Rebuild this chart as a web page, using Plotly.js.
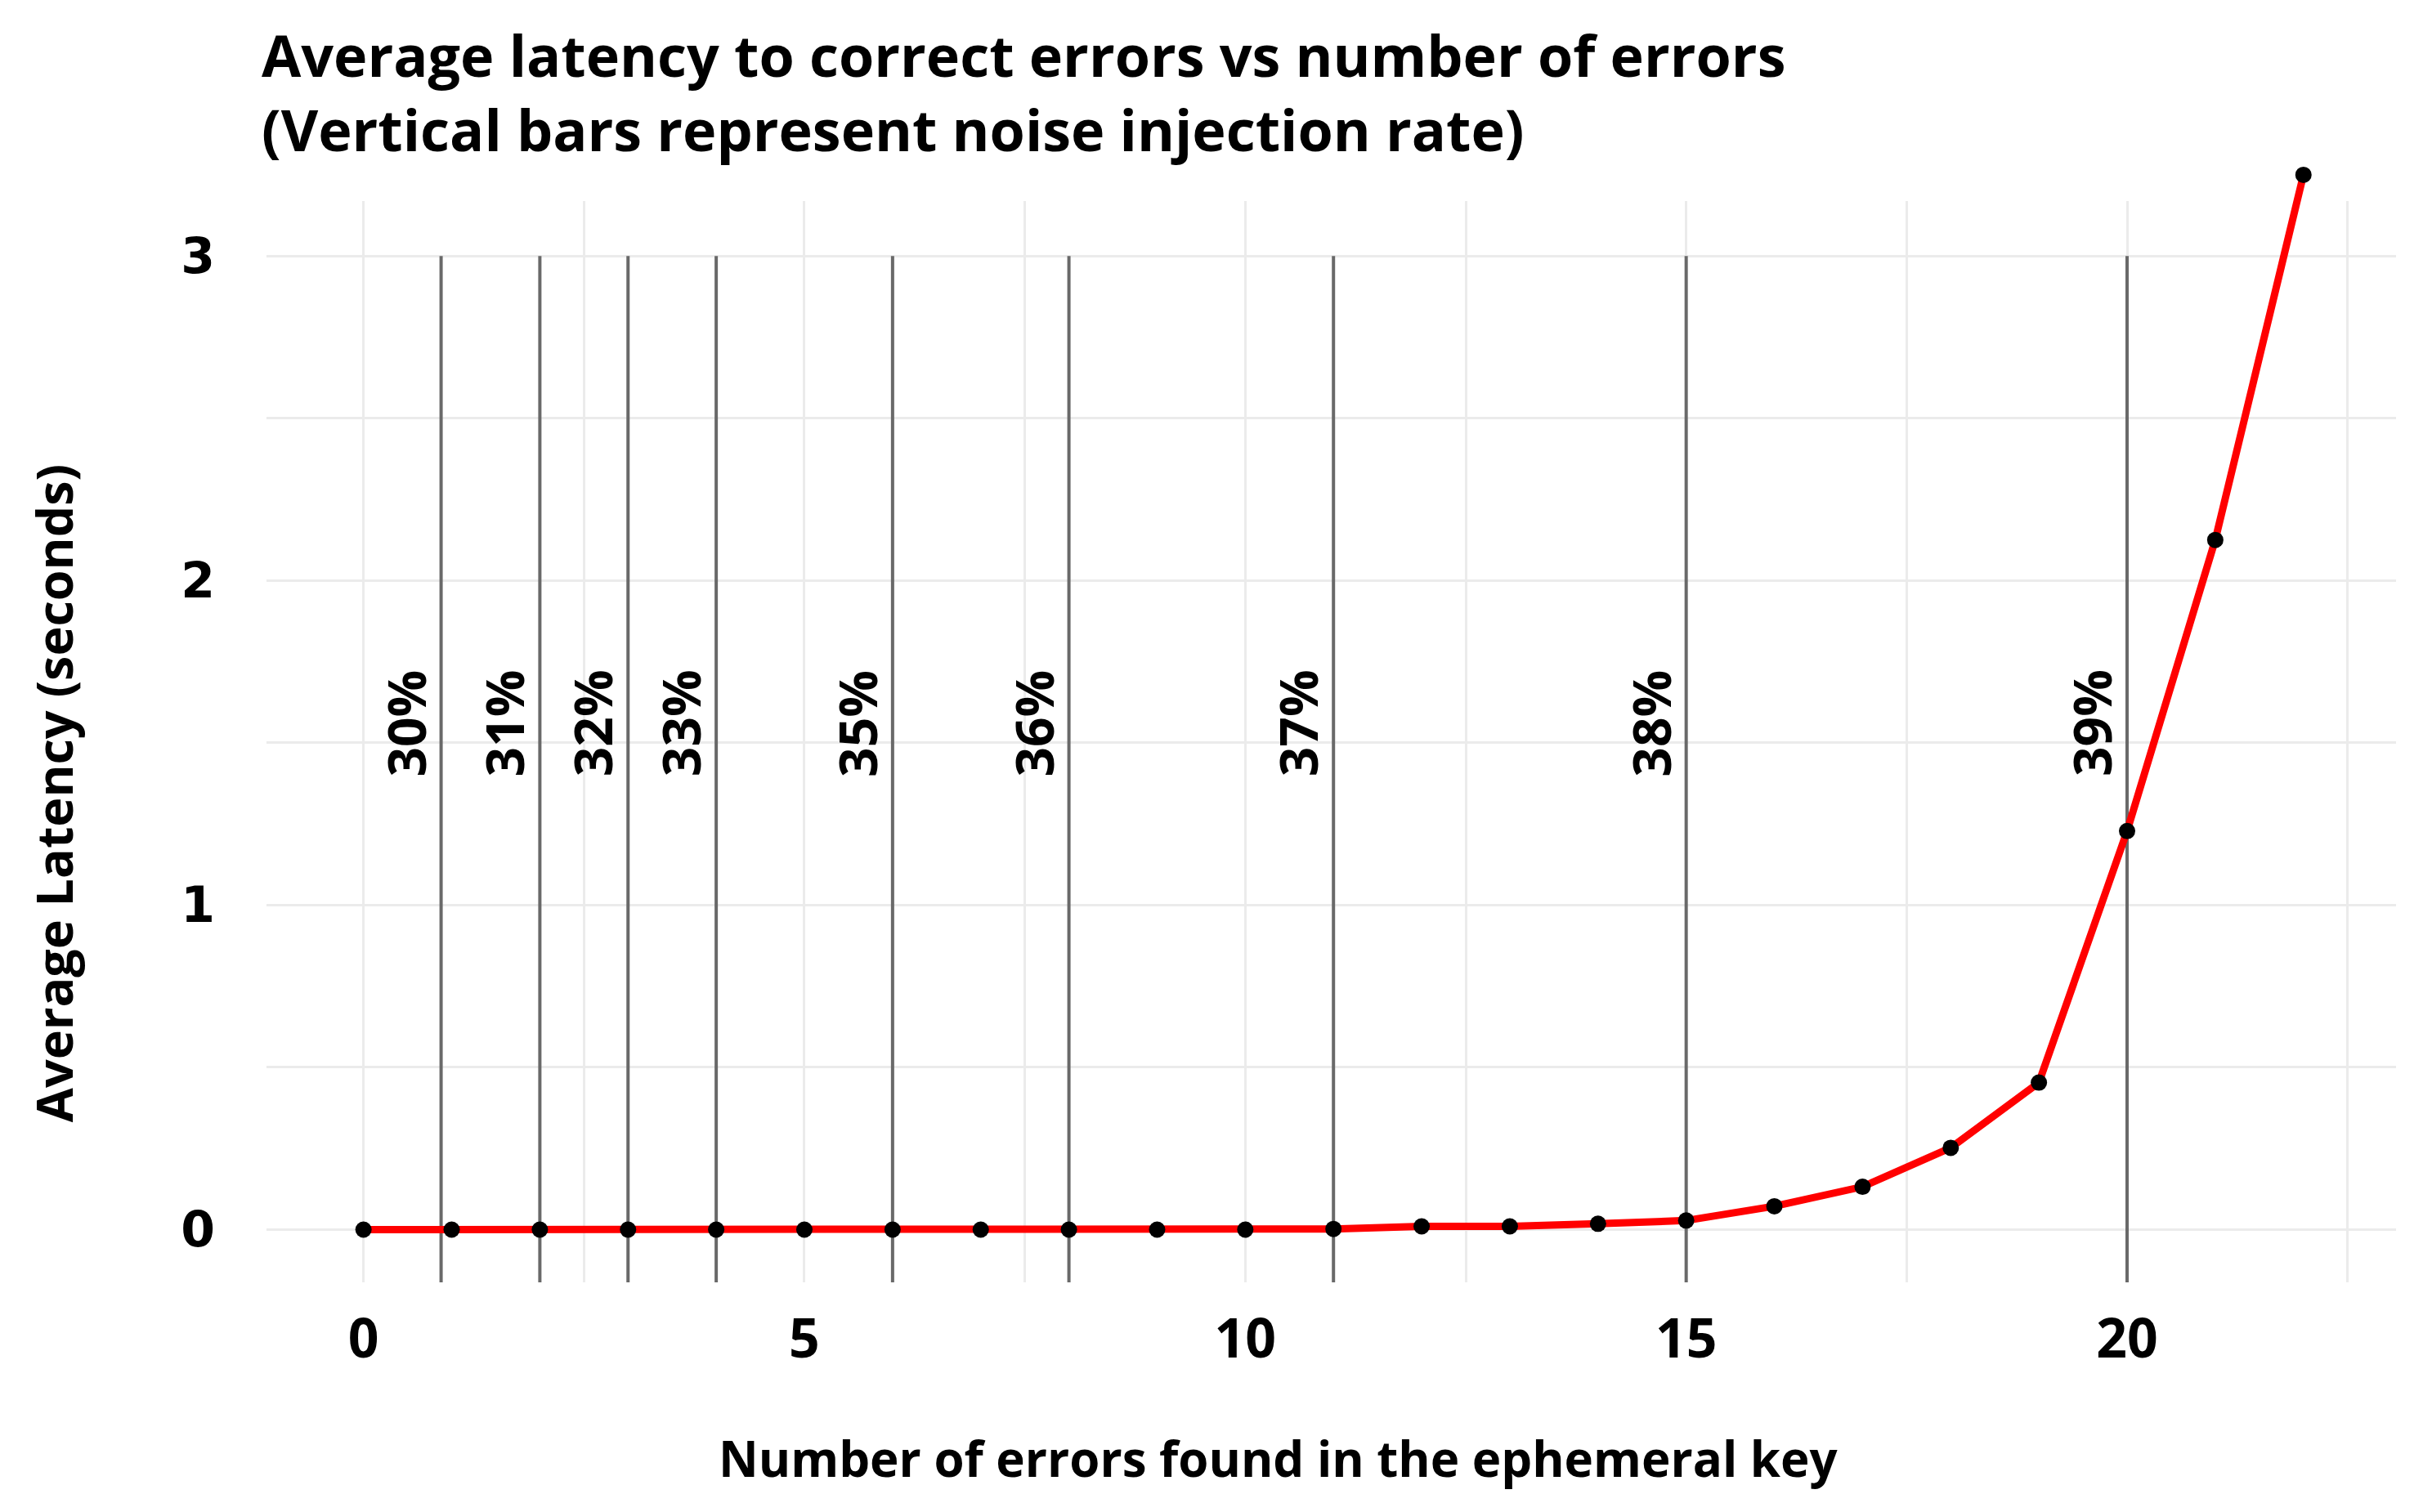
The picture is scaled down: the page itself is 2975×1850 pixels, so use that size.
<!DOCTYPE html>
<html>
<head>
<meta charset="utf-8">
<script src="https://cdn.plot.ly/plotly-3.0.1.min.js"></script>
<style>
  html, body { margin: 0; padding: 0; background: #fff; }
  #chart { width: 2975px; height: 1850px; }
</style>
</head>
<body>
<div id="chart"></div>
<script>
// number of errors found vs average latency (seconds)
var errors = [0, 1, 2, 3, 4, 5, 6, 7, 8, 9, 10, 11, 12, 13, 14, 15, 16, 17, 18, 19, 20, 21, 22];
var latency = [0, 0, 0, 0, 0, 0, 0, 0, 0, 0, 0, 0.002, 0.01, 0.01, 0.018, 0.028, 0.072, 0.132, 0.252, 0.453, 1.228, 2.125, 3.25];

// noise injection rate markers (vertical bars)
var rateX = [0.88, 2, 3, 4, 6, 8, 11, 15, 20];
var rateLabels = ["30%", "31%", "32%", "33%", "35%", "36%", "37%", "38%", "39%"];
var rateLabelY = 1.56;

var xRange = [-1.1, 23.05];
var yRange = [-0.1625, 3.27];
var gridTop = 3.17; // grid panel stops here, the last point sticks out above it
var gridFrac = (gridTop - yRange[0]) / (yRange[1] - yRange[0]);

// the grid lives on x/y, the data on x2/y2 (same scale, taller) so the last point can rise above the grid
var gridHolder = {
    x: [], y: [],
    type: "scatter",
    xaxis: "x", yaxis: "y",
    hoverinfo: "skip"
};

var trace = {
    x: errors,
    y: latency,
    type: "scatter",
    mode: "lines+markers",
    xaxis: "x2", yaxis: "y2",
    line: { color: "#ff0000", width: 9 },
    marker: { color: "#000000", size: 20 },
    cliponaxis: false,
    hoverinfo: "skip"
};

var shapes = [];
var annotations = [];

for (var i = 0; i < rateX.length; i++) {
    shapes.push({
        type: "line",
        xref: "x2", yref: "y2",
        x0: rateX[i], x1: rateX[i],
        y0: yRange[0], y1: 3,
        line: { color: "#696969", width: 4 },
        layer: "below"
    });
    annotations.push({
        xref: "x2", yref: "y2",
        x: rateX[i], y: rateLabelY,
        text: rateLabels[i],
        textangle: -90,
        showarrow: false,
        xanchor: "center",
        yanchor: "middle",
        xshift: -44,
        font: { family: "Open Sans", size: 64, weight: 700, color: "#000" }
    });
}

// axis titles placed as in the picture
annotations.push({
    xref: "paper", yref: "paper",
    x: 0.475, y: -0.158,
    text: "Number of errors found in the ephemeral key",
    showarrow: false,
    xanchor: "center", yanchor: "middle",
    font: { family: "Open Sans", size: 60, weight: 700, color: "#000" }
});
annotations.push({
    xref: "paper", yref: "paper",
    x: -0.1, y: 0.439,
    text: "Average Latency (seconds)",
    textangle: -90,
    showarrow: false,
    xanchor: "center", yanchor: "middle",
    font: { family: "Open Sans", size: 61, weight: 700, color: "#000" }
});

var layout = {
    width: 2975,
    height: 1850,
    paper_bgcolor: "#ffffff",
    plot_bgcolor: "rgba(0,0,0,0)",
    showlegend: false,
    margin: { l: 326, r: 44, t: 206, b: 281, pad: 0 },
    title: {
        text: "Average latency to correct errors vs number of errors<br>(Vertical bars represent noise injection rate)",
        x: 320 / 2975,
        xref: "container",
        xanchor: "left",
        y: 1 - 94 / 1850,
        yref: "container",
        yanchor: "top",
        font: { family: "Open Sans", size: 70, weight: 700, color: "#000" }
    },
    xaxis: {
        range: xRange,
        anchor: "y",
        tickmode: "linear",
        tick0: 0,
        dtick: 5,
        showgrid: true,
        gridcolor: "#ebebeb",
        gridwidth: 3,
        minor: { dtick: 2.5, tick0: 0, showgrid: true, gridcolor: "#ebebeb", gridwidth: 3 },
        zeroline: false,
        showline: false,
        ticks: "outside",
        ticklen: 12,
        tickcolor: "rgba(0,0,0,0)",
        tickfont: { family: "Open Sans", size: 66, weight: 700, color: "#000" },
        fixedrange: true
    },
    yaxis: {
        range: [yRange[0], gridTop],
        domain: [0, gridFrac],
        anchor: "x",
        tickmode: "linear",
        tick0: 0,
        dtick: 1,
        showgrid: true,
        gridcolor: "#ebebeb",
        gridwidth: 3,
        minor: { dtick: 0.5, tick0: 0, showgrid: true, gridcolor: "#ebebeb", gridwidth: 3 },
        zeroline: false,
        showline: false,
        ticks: "outside",
        ticklen: 50,
        tickcolor: "rgba(0,0,0,0)",
        tickfont: { family: "DejaVu Sans", size: 60, weight: 700, color: "#000" },
        fixedrange: true
    },
    xaxis2: {
        range: xRange,
        anchor: "y2",
        visible: false,
        fixedrange: true
    },
    yaxis2: {
        range: yRange,
        domain: [0, 1],
        anchor: "x2",
        visible: false,
        fixedrange: true
    },
    shapes: shapes,
    annotations: annotations
};

Plotly.newPlot("chart", [gridHolder, trace], layout, { staticPlot: true, responsive: false });
</script>
</body>
</html>
